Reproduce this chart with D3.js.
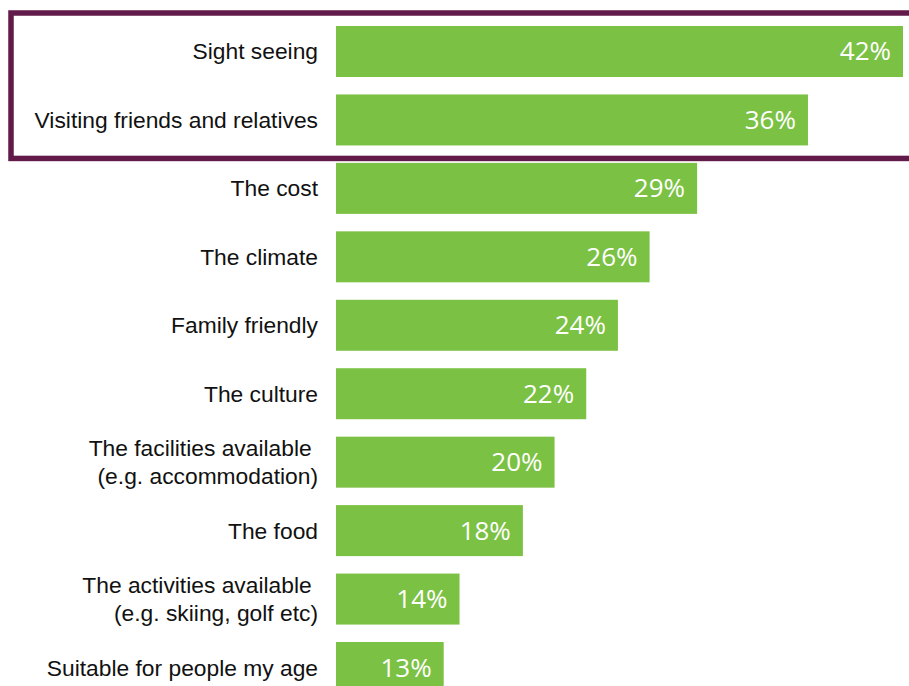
<!DOCTYPE html>
<html>
<head>
<meta charset="utf-8">
<script src="https://cdn.jsdelivr.net/npm/d3@7"></script>
<style>
  body { margin: 0; background: #fff; }
  svg { display: block; }
</style>
</head>
<body>
<svg id="chart" width="909" height="686"></svg>
<script>
// survey answers, top to bottom
const labels = [
  ["Sight seeing"],
  ["Visiting friends and relatives"],
  ["The cost"],
  ["The climate"],
  ["Family friendly"],
  ["The culture"],
  ["The facilities available ", "(e.g. accommodation)"],
  ["The food"],
  ["The activities available ", "(e.g. skiing, golf etc)"],
  ["Suitable for people my age"]
];
const values = [42, 36, 29, 26, 24, 22, 20, 18, 14, 13];
const highlighted = [0, 1];

const svg = d3.select("#chart");
const width = 909;

const rows = d3.range(values.length);

const x = d3.scaleLinear().domain([6.2, 42]).range([336, 903]);
const y = d3.scaleBand().domain(rows).range([26, 693]).paddingInner(0.255).paddingOuter(0);

// highlight frame round the top answers
const first = y(highlighted[0]);
const last = y(highlighted[highlighted.length - 1]) + y.bandwidth();
svg.append("rect")
  .attr("x", 11)
  .attr("y", first - 13)
  .attr("width", width + 20)
  .attr("height", last - first + 26)
  .attr("fill", "none")
  .attr("stroke", "#621a4a")
  .attr("stroke-width", 5.5);

svg.selectAll(".bar")
  .data(rows)
  .enter()
  .append("rect")
  .attr("class", "bar")
  .attr("x", x.range()[0])
  .attr("y", (i) => y(i))
  .attr("width", (i) => x(values[i]) - x.range()[0])
  .attr("height", y.bandwidth())
  .attr("fill", "#7bc143");

svg.selectAll(".value")
  .data(rows)
  .enter()
  .append("text")
  .attr("class", "value")
  .attr("x", (i) => x(values[i]) - 12)
  .attr("y", (i) => y(i) + y.bandwidth() / 2 + 9)
  .attr("text-anchor", "end")
  .attr("fill", "#fff")
  .style("font-family", "'Open Sans', sans-serif")
  .style("font-size", "26px")
  .text((i) => values[i] + "%");

svg.selectAll(".label")
  .data(rows)
  .enter()
  .append("text")
  .attr("class", "label")
  .attr("y", (i) => y(i) + y.bandwidth() / 2 + 8)
  .attr("text-anchor", "end")
  .attr("fill", "#111")
  .style("font-family", "'Liberation Sans', Arial, sans-serif")
  .style("font-size", "22.8px")
  .style("white-space", "pre")
  .each(function (i) {
    const lines = labels[i];
    const t = d3.select(this);
    lines.forEach((line, k) => {
      t.append("tspan")
        .attr("x", 318)
        .attr("dy", k === 0 ? (lines.length > 1 ? "-0.62em" : "0em") : "1.24em")
        .text(line);
    });
  });
</script>
</body>
</html>
